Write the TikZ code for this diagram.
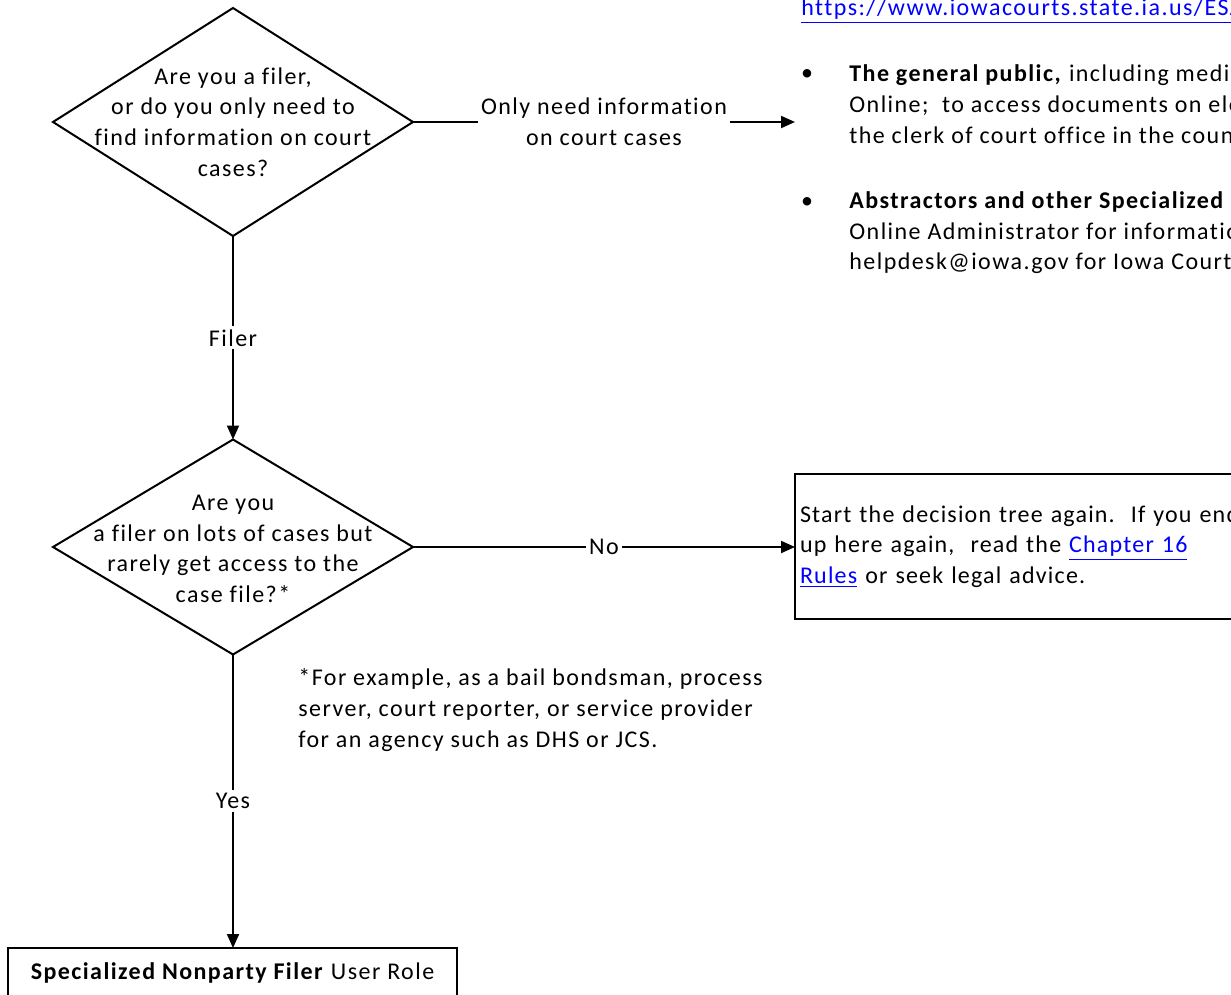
\documentclass[tikz,border=0pt]{standalone}
\usepackage{fontspec}
\setmainfont{Carlito}[LetterSpace=6, Ligatures=CommonOff]
\usetikzlibrary{shapes.geometric,arrows.meta}
\definecolor{linkblue}{RGB}{0,0,255}
\newcommand{\weblink}[1]{\textcolor{linkblue}{\underline{#1}}}
\tikzset{
  decision/.style={diamond, draw, line width=1pt, minimum width=180pt, minimum height=114pt, inner sep=0pt, outer sep=0pt},
  outcome/.style={rectangle, draw, line width=1pt, outer sep=0pt},
  flow/.style={line width=1pt, -{Triangle[length=7pt,width=6pt]}},
  edgelabel/.style={fill=white, inner sep=1.5pt, align=center},
  plain/.style={align=left, inner sep=0pt}
}

\begin{document}
\begin{tikzpicture}[x=0.5pt, y=-0.5pt, font=\fontsize{12}{15.3}\selectfont]
 % Frame
 \useasboundingbox (0,0) rectangle (1231,995);
 \clip (0,0) rectangle (1231,995);
 % Nodes
 \node[decision] (q_filer) at (233,122) {};
 \node[align=center] (q_filer_text) at (q_filer) {Are you a filer,\\or do you only need to\\find information on court\\cases?};
 \node[decision, minimum height=107.5pt] (q_many) at (233,547) {};
 \node[align=center] (q_many_text) at (233,549) {Are you\\a filer on lots of cases but\\rarely get access to the\\case file?*};
 \node[outcome, anchor=north west, minimum height=72.5pt, text width=240pt, align=left, inner xsep=2.5pt, font=\fontsize{12}{15.3}\selectfont\addfontfeatures{LetterSpace=5}] (r_again) at (795,474) {Start the decision tree again.\ \ If you end\\up here again,\ \ read the \weblink{Chapter 16}\\\weblink{Rules} or seek legal advice.};
 \node[outcome, anchor=north, minimum width=224.5pt, minimum height=25pt] (r_nonparty) at (232.5,948) {\textbf{Specialized Nonparty Filer} User Role};
 \node[plain, anchor=west] (fn_examples) at (298,710) {*For example, as a bail bondsman, process\\server, court reporter, or service provider\\for an agency such as DHS or JCS.};
 \coordinate (to_public) at (795,122);
 % Text on the right
 \node[plain, anchor=west] (esa_link) at (801,11) {\weblink{https://www.iowacourts.state.ia.us/ESA}};
 \node[plain] (pub_dot) at (807,75) {\textbullet};
 \node[plain, anchor=west] (pub_text) at (849,106) {\textbf{The general public,} including media\\Online;\ \ to access documents on electronic\\the clerk of court office in the county};
 \node[plain] (abs_dot) at (807,203) {\textbullet};
 \node[plain, anchor=west] (abs_text) at (849,233) {\textbf{Abstractors and other Specialized Users}\\Online Administrator for information\\helpdesk@iowa.gov for Iowa Courts};
 % Edges
 \draw[flow] (q_filer.east) -- node[edgelabel] {Only need information\\on court cases} (to_public);
 \draw[flow] (q_filer.south) -- node[edgelabel] {Filer} (q_many.north);
 \draw[flow] (q_many.east) -- node[edgelabel] {No} (q_many.east -| r_again.west);
 \draw[flow] (q_many.south) -- node[edgelabel] {Yes} (q_many.south |- r_nonparty.north);
\end{tikzpicture}
\end{document}
